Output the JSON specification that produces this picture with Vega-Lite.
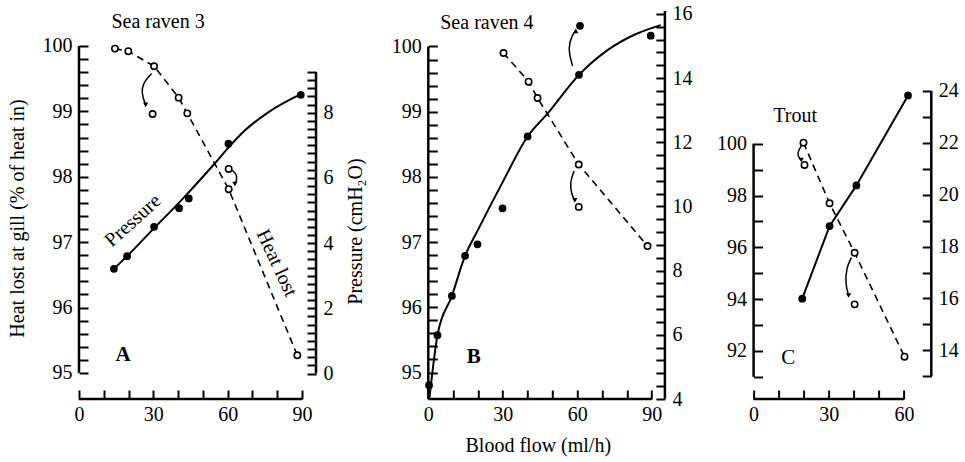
{
  "$schema": "https://vega.github.io/schema/vega-lite/v6.json",
  "padding": {"left": 7, "top": 3, "right": 5, "bottom": 5},
  "background": "white",
  "config": {
    "font": "Liberation Serif",
    "view": {"stroke": null},
    "axis": {
      "labelFont": "Liberation Serif", "labelFontSize": 20, "labelColor": "#000",
      "tickColor": "#000", "tickWidth": 2, "tickSize": -9, "domain": false, "grid": false,
      "labelFlush": false, "labelOverlap": false, "labelBound": false, "tickCount": 200,
      "titleFont": "Liberation Serif", "titleFontSize": 20, "titleFontWeight": "normal", "titleColor": "#000"
    }
  },
  "datasets": {
    "A_heat": [
      {"x": 14.5, "y": 99.96, "s": "on"}, {"x": 19.9, "y": 99.92, "s": "on"}, {"x": 30.3, "y": 99.69, "s": "on"},
      {"x": 40.2, "y": 99.21, "s": "on"}, {"x": 43.7, "y": 98.97, "s": "on"}, {"x": 60.4, "y": 97.81, "s": "on"},
      {"x": 88.1, "y": 95.27, "s": "on"}, {"x": 29.7, "y": 98.96, "s": "alt"}, {"x": 60.4, "y": 98.12, "s": "alt"}
    ],
    "A_arr": [
      {"id": 1, "o": 1, "x": 29.3, "y": 99.58}, {"id": 1, "o": 2, "x": 26.6, "y": 99.47}, {"id": 1, "o": 3, "x": 25.3, "y": 99.35},
      {"id": 1, "o": 4, "x": 25.7, "y": 99.22}, {"id": 1, "o": 5, "x": 26.9, "y": 99.10, "tip": true, "d": "down"},
      {"id": 2, "o": 1, "x": 61.8, "y": 98.10}, {"id": 2, "o": 2, "x": 63.8, "y": 98.03}, {"id": 2, "o": 3, "x": 63.6, "y": 97.94},
      {"id": 2, "o": 4, "x": 62.9, "y": 97.89, "tip": true, "d": "down"}
    ],
    "A_pres": [
      {"x": 14.1, "y": 3.21}, {"x": 19.4, "y": 3.60}, {"x": 30.3, "y": 4.50}, {"x": 40.4, "y": 5.07},
      {"x": 44.3, "y": 5.37}, {"x": 60.3, "y": 7.05}, {"x": 89.5, "y": 8.55}
    ],
    "A_pfit": [
      {"x": 14.1, "y": 3.21}, {"x": 19.4, "y": 3.60}, {"x": 30.3, "y": 4.46}, {"x": 40.4, "y": 5.24},
      {"x": 44.3, "y": 5.56}, {"x": 54.5, "y": 6.42}, {"x": 60.3, "y": 6.93}, {"x": 67, "y": 7.46},
      {"x": 76.5, "y": 8.02}, {"x": 89.5, "y": 8.57}
    ],
    "B_heat": [
      {"x": 30.3, "y": 99.90, "s": "on"}, {"x": 40.4, "y": 99.46, "s": "on"}, {"x": 44.0, "y": 99.21, "s": "on"},
      {"x": 60.6, "y": 98.19, "s": "on"}, {"x": 88.3, "y": 96.94, "s": "on"}, {"x": 60.6, "y": 97.54, "s": "alt"}
    ],
    "B_arrL": [
      {"id": 1, "o": 1, "x": 58.7, "y": 98.09}, {"id": 1, "o": 2, "x": 57.0, "y": 97.91}, {"id": 1, "o": 3, "x": 57.7, "y": 97.73},
      {"id": 1, "o": 4, "x": 59.0, "y": 97.64, "tip": true, "d": "down"}
    ],
    "B_arrR": [
      {"id": 1, "o": 1, "x": 58.1, "y": 14.38}, {"id": 1, "o": 2, "x": 56.1, "y": 14.95}, {"id": 1, "o": 3, "x": 58.1, "y": 15.37},
      {"id": 1, "o": 4, "x": 59.4, "y": 15.47, "tip": true, "d": "up"}
    ],
    "B_pres": [
      {"x": 0.3, "y": 4.43}, {"x": 3.7, "y": 5.99}, {"x": 9.5, "y": 7.21}, {"x": 14.8, "y": 8.46}, {"x": 19.8, "y": 8.82},
      {"x": 29.9, "y": 9.94}, {"x": 40.0, "y": 12.18}, {"x": 60.7, "y": 14.10}, {"x": 61.1, "y": 15.63}, {"x": 89.6, "y": 15.32}
    ],
    "B_pfit": [
      {"x": 0.5, "y": 4.05}, {"x": 3.7, "y": 5.99}, {"x": 9.5, "y": 7.21}, {"x": 14.8, "y": 8.46}, {"x": 19.8, "y": 9.24},
      {"x": 29.9, "y": 10.75}, {"x": 40.0, "y": 12.18}, {"x": 48.0, "y": 12.89}, {"x": 60.7, "y": 14.10},
      {"x": 72.2, "y": 14.87}, {"x": 83, "y": 15.35}, {"x": 93.6, "y": 15.65}
    ],
    "C_heat": [
      {"x": 19.9, "y": 100.04, "s": "on"}, {"x": 30.3, "y": 97.70, "s": "on"}, {"x": 40.3, "y": 95.79, "s": "on"},
      {"x": 60.2, "y": 91.78, "s": "on"}, {"x": 20.3, "y": 99.18, "s": "alt"}, {"x": 40.3, "y": 93.80, "s": "alt"}
    ],
    "C_arr": [
      {"id": 1, "o": 1, "x": 19.0, "y": 99.91}, {"id": 1, "o": 2, "x": 17.4, "y": 99.65}, {"id": 1, "o": 3, "x": 18.0, "y": 99.46},
      {"id": 1, "o": 4, "x": 19.0, "y": 99.37, "tip": true, "d": "down"},
      {"id": 2, "o": 1, "x": 39.0, "y": 95.60}, {"id": 2, "o": 2, "x": 37.0, "y": 95.22}, {"id": 2, "o": 3, "x": 36.6, "y": 94.57},
      {"id": 2, "o": 4, "x": 37.9, "y": 94.14, "tip": true, "d": "down"}
    ],
    "C_pres": [
      {"x": 19.4, "y": 15.99}, {"x": 30.3, "y": 18.79}, {"x": 41.0, "y": 20.36}, {"x": 61.6, "y": 23.83}
    ]
  },
  "bounds": "flush",
  "spacing": 88.3,
  "hconcat": [
    {
      "width": 260.2, "height": 388,
      "resolve": {"scale": {"y": "independent"}},
      "layer": [
        {"layer": [
          {"data": {"values": [{"x": 0, "x2": 0, "y": 95, "y2": 100}, {"x": 0, "x2": 90, "y": 94.602, "y2": 94.602}]},
           "mark": {"type": "rule", "strokeWidth": 2.5, "color": "black"},
           "encoding": {
             "x": {"field": "x", "type": "quantitative", "scale": {"domain": [0, 105], "nice": false, "zero": false},
                   "axis": {"values": [0, 10, 20, 30, 40, 50, 60, 70, 80, 90], "tickCount": 200, "labelExpr": "datum.value % 30 === 0 ? format(datum.value, 'd') : ''", "title": null, "labelPadding": 14, "labelOverlap": false}},
             "x2": {"field": "x2"},
             "y": {"field": "y", "type": "quantitative", "scale": {"domain": [94.602, 100.535], "nice": false, "zero": false},
                   "axis": {"values": [95, 95.2, 95.4, 95.6, 95.8, 96, 96.2, 96.4, 96.6, 96.8, 97, 97.2, 97.4, 97.6, 97.8, 98, 98.2, 98.4, 98.6, 98.8, 99, 99.2, 99.4, 99.6, 99.8, 100], "tickCount": 200,
                            "labelExpr": "datum.value % 1 === 0 ? format(datum.value, 'd') : ''", "labelPadding": 16, "labelOverlap": false,
                            "title": "Heat lost at gill (% of heat in)", "titleX": -62, "titleY": 207, "titleAngle": 270, "titleAlign": "center", "titleBaseline": "middle"}},
             "y2": {"field": "y2"}
           }},
          {"data": {"name": "A_heat"}, "transform": [{"filter": "datum.s === 'on'"}],
           "mark": {"type": "line", "strokeDash": [7, 5], "strokeWidth": 1.6, "color": "black"},
           "encoding": {"x": {"field": "x", "type": "quantitative"}, "y": {"field": "y", "type": "quantitative"}}},
          {"data": {"name": "A_arr"},
           "mark": {"type": "line", "interpolate": "basis", "strokeWidth": 1.5, "color": "black"},
           "encoding": {"x": {"field": "x", "type": "quantitative"}, "y": {"field": "y", "type": "quantitative"}, "detail": {"field": "id"}, "order": {"field": "o"}}},
          {"data": {"name": "A_arr"}, "transform": [{"filter": "datum.tip"}],
           "mark": {"type": "point", "filled": true, "color": "black", "size": 28, "opacity": 1},
           "encoding": {"x": {"field": "x", "type": "quantitative"}, "y": {"field": "y", "type": "quantitative"},
                        "shape": {"field": "d", "type": "nominal", "scale": {"domain": ["up", "down"], "range": ["triangle-up", "triangle-down"]}, "legend": null}}},
          {"data": {"name": "A_heat"},
           "mark": {"type": "point", "filled": true, "fill": "white", "stroke": "black", "strokeWidth": 1.6, "size": 40, "opacity": 1},
           "encoding": {"x": {"field": "x", "type": "quantitative"}, "y": {"field": "y", "type": "quantitative"}}},
          {"data": {"values": [{"x": 31.9, "y": 100.36, "t": "Sea raven 3"}]},
           "mark": {"type": "text", "fontSize": 20, "color": "black", "align": "center", "baseline": "middle"},
           "encoding": {"x": {"field": "x", "type": "quantitative"}, "y": {"field": "y", "type": "quantitative"}, "text": {"field": "t"}}},
          {"data": {"values": [{"x": 17.8, "y": 95.28, "t": "A"}]},
           "mark": {"type": "text", "fontSize": 21, "fontWeight": "bold", "color": "black", "align": "center", "baseline": "middle"},
           "encoding": {"x": {"field": "x", "type": "quantitative"}, "y": {"field": "y", "type": "quantitative"}, "text": {"field": "t"}}},
          {"data": {"values": [{"x": 21.8, "y": 97.33, "t": "Pressure"}]},
           "mark": {"type": "text", "fontSize": 20, "color": "black", "align": "center", "baseline": "middle", "angle": 318},
           "encoding": {"x": {"field": "x", "type": "quantitative"}, "y": {"field": "y", "type": "quantitative"}, "text": {"field": "t"}}},
          {"data": {"values": [{"x": 79.8, "y": 96.68, "t": "Heat lost"}]},
           "mark": {"type": "text", "fontSize": 20, "color": "black", "align": "center", "baseline": "middle", "angle": 65},
           "encoding": {"x": {"field": "x", "type": "quantitative"}, "y": {"field": "y", "type": "quantitative"}, "text": {"field": "t"}}}
        ]},
        {"layer": [
          {"data": {"values": [{"x": 95.64, "x2": 95.64, "y": 0, "y2": 9.25}]},
           "mark": {"type": "rule", "strokeWidth": 2.5, "color": "black"},
           "encoding": {
             "x": {"field": "x", "type": "quantitative"},
             "x2": {"field": "x2"},
             "y": {"field": "y", "type": "quantitative", "scale": {"domain": [-0.782, 11.12], "nice": false, "zero": false},
                   "axis": {"orient": "right", "offset": -23.2, "tickCount": 200,
                            "values": [0, 0.25, 0.5, 0.75, 1, 1.25, 1.5, 1.75, 2, 2.25, 2.5, 2.75, 3, 3.25, 3.5, 3.75, 4, 4.25, 4.5, 4.75, 5, 5.25, 5.5, 5.75, 6, 6.25, 6.5, 6.75, 7, 7.25, 7.5, 7.75, 8, 8.25, 8.5, 8.75, 9, 9.25],
                            "labelExpr": "datum.value % 2 === 0 ? format(datum.value, 'd') : ''", "labelPadding": 16, "labelOverlap": false,
                            "title": "Pressure (cmH₂O)", "titleX": 39, "titleY": 220, "titleAngle": 270, "titleAlign": "center", "titleBaseline": "middle"}},
             "y2": {"field": "y2"}
           }},
          {"data": {"name": "A_pfit"},
           "mark": {"type": "line", "interpolate": "monotone", "strokeWidth": 2, "color": "black"},
           "encoding": {"x": {"field": "x", "type": "quantitative"}, "y": {"field": "y", "type": "quantitative"}}},
          {"data": {"name": "A_pres"},
           "mark": {"type": "point", "filled": true, "color": "black", "size": 60, "opacity": 1},
           "encoding": {"x": {"field": "x", "type": "quantitative"}, "y": {"field": "y", "type": "quantitative"}}}
        ]}
      ]
    },
    {
      "width": 236.6, "height": 388,
      "resolve": {"scale": {"y": "independent"}},
      "layer": [
        {"layer": [
          {"data": {"values": [{"x": 0, "x2": 0, "y": 94.594, "y2": 100}, {"x": 0, "x2": 90, "y": 94.594, "y2": 94.594}]},
           "mark": {"type": "rule", "strokeWidth": 2.5, "color": "black"},
           "encoding": {
             "x": {"field": "x", "type": "quantitative", "scale": {"domain": [0, 95.3], "nice": false, "zero": false},
                   "axis": {"values": [0, 10, 20, 30, 40, 50, 60, 70, 80, 90], "tickCount": 200, "labelExpr": "datum.value % 30 === 0 ? format(datum.value, 'd') : ''", "labelPadding": 14, "labelOverlap": false,
                            "title": "Blood flow (ml/h)", "titleX": 109.5, "titleY": 46, "titleAlign": "center", "titleBaseline": "middle"}},
             "x2": {"field": "x2"},
             "y": {"field": "y", "type": "quantitative", "scale": {"domain": [94.594, 100.544], "nice": false, "zero": false},
                   "axis": {"values": [95, 95.2, 95.4, 95.6, 95.8, 96, 96.2, 96.4, 96.6, 96.8, 97, 97.2, 97.4, 97.6, 97.8, 98, 98.2, 98.4, 98.6, 98.8, 99, 99.2, 99.4, 99.6, 99.8, 100], "tickCount": 200,
                            "labelExpr": "datum.value % 1 === 0 ? format(datum.value, 'd') : ''", "labelPadding": 16, "labelOverlap": false, "title": null}},
             "y2": {"field": "y2"}
           }},
          {"data": {"name": "B_heat"}, "transform": [{"filter": "datum.s === 'on'"}],
           "mark": {"type": "line", "strokeDash": [7, 5], "strokeWidth": 1.6, "color": "black"},
           "encoding": {"x": {"field": "x", "type": "quantitative"}, "y": {"field": "y", "type": "quantitative"}}},
          {"data": {"name": "B_arrL"},
           "mark": {"type": "line", "interpolate": "basis", "strokeWidth": 1.5, "color": "black"},
           "encoding": {"x": {"field": "x", "type": "quantitative"}, "y": {"field": "y", "type": "quantitative"}, "detail": {"field": "id"}, "order": {"field": "o"}}},
          {"data": {"name": "B_arrL"}, "transform": [{"filter": "datum.tip"}],
           "mark": {"type": "point", "filled": true, "color": "black", "size": 28, "opacity": 1},
           "encoding": {"x": {"field": "x", "type": "quantitative"}, "y": {"field": "y", "type": "quantitative"},
                        "shape": {"field": "d", "type": "nominal", "scale": {"domain": ["up", "down"], "range": ["triangle-up", "triangle-down"]}, "legend": null}}},
          {"data": {"name": "B_heat"},
           "mark": {"type": "point", "filled": true, "fill": "white", "stroke": "black", "strokeWidth": 1.6, "size": 40, "opacity": 1},
           "encoding": {"x": {"field": "x", "type": "quantitative"}, "y": {"field": "y", "type": "quantitative"}}},
          {"data": {"values": [{"x": 23.6, "y": 100.36, "t": "Sea raven 4"}]},
           "mark": {"type": "text", "fontSize": 20, "color": "black", "align": "center", "baseline": "middle"},
           "encoding": {"x": {"field": "x", "type": "quantitative"}, "y": {"field": "y", "type": "quantitative"}, "text": {"field": "t"}}},
          {"data": {"values": [{"x": 18.3, "y": 95.24, "t": "B"}]},
           "mark": {"type": "text", "fontSize": 21, "fontWeight": "bold", "color": "black", "align": "center", "baseline": "middle"},
           "encoding": {"x": {"field": "x", "type": "quantitative"}, "y": {"field": "y", "type": "quantitative"}, "text": {"field": "t"}}}
        ]},
        {"layer": [
          {"data": {"values": [{"x": 95.3, "x2": 95.3, "y": 4, "y2": 16.09}]},
           "mark": {"type": "rule", "strokeWidth": 2.5, "color": "black"},
           "encoding": {
             "x": {"field": "x", "type": "quantitative"},
             "x2": {"field": "x2"},
             "y": {"field": "y", "type": "quantitative", "scale": {"domain": [4, 16.09], "nice": false, "zero": false},
                   "axis": {"orient": "right", "tickCount": 200,
                            "values": [4, 4.4, 4.8, 5.2, 5.6, 6, 6.4, 6.8, 7.2, 7.6, 8, 8.4, 8.8, 9.2, 9.6, 10, 10.4, 10.8, 11.2, 11.6, 12, 12.4, 12.8, 13.2, 13.6, 14, 14.4, 14.8, 15.2, 15.6, 16],
                            "labelExpr": "datum.value % 2 === 0 ? format(datum.value, 'd') : ''", "labelPadding": 16, "labelOverlap": false, "title": null}},
             "y2": {"field": "y2"}
           }},
          {"data": {"name": "B_pfit"},
           "mark": {"type": "line", "interpolate": "monotone", "strokeWidth": 2, "color": "black"},
           "encoding": {"x": {"field": "x", "type": "quantitative"}, "y": {"field": "y", "type": "quantitative"}}},
          {"data": {"name": "B_arrR"},
           "mark": {"type": "line", "interpolate": "basis", "strokeWidth": 1.5, "color": "black"},
           "encoding": {"x": {"field": "x", "type": "quantitative"}, "y": {"field": "y", "type": "quantitative"}, "detail": {"field": "id"}, "order": {"field": "o"}}},
          {"data": {"name": "B_arrR"}, "transform": [{"filter": "datum.tip"}],
           "mark": {"type": "point", "filled": true, "color": "black", "size": 28, "opacity": 1},
           "encoding": {"x": {"field": "x", "type": "quantitative"}, "y": {"field": "y", "type": "quantitative"},
                        "shape": {"field": "d", "type": "nominal", "scale": {"domain": ["up", "down"], "range": ["triangle-up", "triangle-down"]}, "legend": null}}},
          {"data": {"name": "B_pres"},
           "mark": {"type": "point", "filled": true, "color": "black", "size": 60, "opacity": 1},
           "encoding": {"x": {"field": "x", "type": "quantitative"}, "y": {"field": "y", "type": "quantitative"}}}
        ]}
      ]
    },
    {
      "width": 177.7, "height": 388,
      "resolve": {"scale": {"y": "independent"}},
      "layer": [
        {"layer": [
          {"data": {"values": [{"x": 0, "x2": 0, "y": 91, "y2": 100}, {"x": 0, "x2": 60, "y": 90.147, "y2": 90.147}]},
           "mark": {"type": "rule", "strokeWidth": 2.5, "color": "black"},
           "encoding": {
             "x": {"field": "x", "type": "quantitative", "scale": {"domain": [0, 70.88], "nice": false, "zero": false},
                   "axis": {"values": [0, 10, 20, 30, 40, 50, 60], "tickCount": 200, "labelExpr": "datum.value % 30 === 0 ? format(datum.value, 'd') : ''", "title": null, "labelPadding": 14, "labelOverlap": false}},
             "x2": {"field": "x2"},
             "y": {"field": "y", "type": "quantitative", "scale": {"domain": [90.147, 105.12], "nice": false, "zero": false},
                   "axis": {"values": [91, 92, 93, 94, 95, 96, 97, 98, 99, 100], "tickCount": 200,
                            "labelExpr": "datum.value % 2 === 0 ? format(datum.value, 'd') : ''", "labelPadding": 16, "labelOverlap": false, "title": null}},
             "y2": {"field": "y2"}
           }},
          {"data": {"name": "C_heat"}, "transform": [{"filter": "datum.s === 'on'"}],
           "mark": {"type": "line", "strokeDash": [7, 5], "strokeWidth": 1.6, "color": "black"},
           "encoding": {"x": {"field": "x", "type": "quantitative"}, "y": {"field": "y", "type": "quantitative"}}},
          {"data": {"name": "C_arr"},
           "mark": {"type": "line", "interpolate": "basis", "strokeWidth": 1.5, "color": "black"},
           "encoding": {"x": {"field": "x", "type": "quantitative"}, "y": {"field": "y", "type": "quantitative"}, "detail": {"field": "id"}, "order": {"field": "o"}}},
          {"data": {"name": "C_arr"}, "transform": [{"filter": "datum.tip"}],
           "mark": {"type": "point", "filled": true, "color": "black", "size": 28, "opacity": 1},
           "encoding": {"x": {"field": "x", "type": "quantitative"}, "y": {"field": "y", "type": "quantitative"},
                        "shape": {"field": "d", "type": "nominal", "scale": {"domain": ["up", "down"], "range": ["triangle-up", "triangle-down"]}, "legend": null}}},
          {"data": {"name": "C_heat"},
           "mark": {"type": "point", "filled": true, "fill": "white", "stroke": "black", "strokeWidth": 1.6, "size": 40, "opacity": 1},
           "encoding": {"x": {"field": "x", "type": "quantitative"}, "y": {"field": "y", "type": "quantitative"}}},
          {"data": {"values": [{"x": 16.6, "y": 101.07, "t": "Trout"}]},
           "mark": {"type": "text", "fontSize": 20, "color": "black", "align": "center", "baseline": "middle"},
           "encoding": {"x": {"field": "x", "type": "quantitative"}, "y": {"field": "y", "type": "quantitative"}, "text": {"field": "t"}}},
          {"data": {"values": [{"x": 13.8, "y": 91.73, "t": "C"}]},
           "mark": {"type": "text", "fontSize": 21, "color": "black", "align": "center", "baseline": "middle"},
           "encoding": {"x": {"field": "x", "type": "quantitative"}, "y": {"field": "y", "type": "quantitative"}, "text": {"field": "t"}}}
        ]},
        {"layer": [
          {"data": {"values": [{"x": 70.88, "x2": 70.88, "y": 13, "y2": 24}]},
           "mark": {"type": "rule", "strokeWidth": 2.5, "color": "black"},
           "encoding": {
             "x": {"field": "x", "type": "quantitative"},
             "x2": {"field": "x2"},
             "y": {"field": "y", "type": "quantitative", "scale": {"domain": [12.122, 27.085], "nice": false, "zero": false},
                   "axis": {"orient": "right", "values": [13, 14, 15, 16, 17, 18, 19, 20, 21, 22, 23, 24], "tickCount": 200,
                            "labelExpr": "datum.value % 2 === 0 ? format(datum.value, 'd') : ''", "labelPadding": 16, "labelOverlap": false, "title": null}},
             "y2": {"field": "y2"}
           }},
          {"data": {"name": "C_pres"},
           "mark": {"type": "line", "strokeWidth": 2, "color": "black"},
           "encoding": {"x": {"field": "x", "type": "quantitative"}, "y": {"field": "y", "type": "quantitative"}}},
          {"data": {"name": "C_pres"},
           "mark": {"type": "point", "filled": true, "color": "black", "size": 60, "opacity": 1},
           "encoding": {"x": {"field": "x", "type": "quantitative"}, "y": {"field": "y", "type": "quantitative"}}}
        ]}
      ]
    }
  ]
}
